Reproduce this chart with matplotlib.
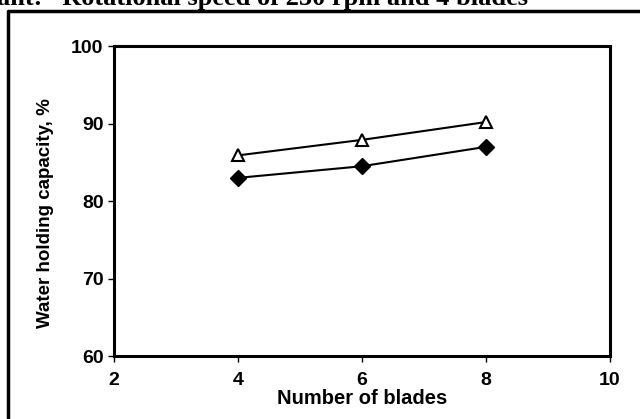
import matplotlib.pyplot as plt
from matplotlib.lines import Line2D

# data
blades = [4, 6, 8]
wh_triangle = [85.9, 87.9, 90.2]
wh_diamond = [83.0, 84.5, 87.0]

xticks = [2, 4, 6, 8, 10]
yticks = [60, 70, 80, 90, 100]

plt.rcParams['font.family'] = ['Liberation Sans', 'DejaVu Sans']

fig = plt.figure(figsize=(6.4, 4.19), dpi=100)
ax = fig.add_axes([0.178, 0.150, 0.775, 0.740])

ax.plot(blades, wh_triangle, color='black', lw=1.5, marker='^', markersize=9,
        markerfacecolor='white', markeredgecolor='black', markeredgewidth=1.5)
ax.plot(blades, wh_diamond, color='black', lw=1.5, marker='D', markersize=8,
        markerfacecolor='black', markeredgecolor='black')

ax.set_xlim(2, 10)
ax.set_ylim(60, 100)
ax.set_xticks(xticks)
ax.set_yticks(yticks)
ax.tick_params(direction='out', length=4.5, width=1, labelsize=14)
ax.tick_params(axis='x', pad=7)
ax.tick_params(axis='y', pad=3)
for lab in ax.get_xticklabels() + ax.get_yticklabels():
    lab.set_fontweight('bold')
for s in ax.spines.values():
    s.set_linewidth(2.2)

ax.set_xlabel('Number of blades', fontsize=14.5, fontweight='bold', labelpad=0)
ax.set_ylabel('Water holding capacity, %', fontsize=13.5, fontweight='bold')
ax.yaxis.set_label_coords(-0.12, 0.46)

# cropped caption at the top and outer frame
fig.text(-0.005, 0.975, 'ant:   Rotational speed of 250 rpm and 4 blades',
         fontsize=19, fontweight='bold', family='Liberation Serif', va='bottom')
fig.add_artist(Line2D([0.013, 0.013, 1.0], [0.0, 0.974, 0.974], color='black',
                      lw=2.5, transform=fig.transFigure))

fig.savefig('out.png', dpi=100)
